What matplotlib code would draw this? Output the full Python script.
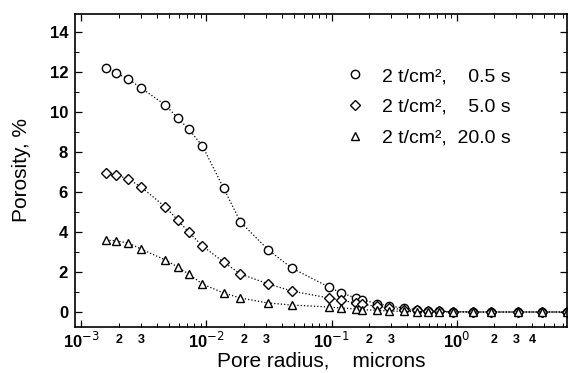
import numpy as np
import matplotlib
matplotlib.use("Agg")
import matplotlib.pyplot as plt
from matplotlib.ticker import FixedLocator, FixedFormatter, MultipleLocator

plt.rcParams['font.family'] = ['Liberation Sans', 'DejaVu Sans']

# pore radius, microns (shared by all three series)
radius = [0.00158, 0.0019, 0.00238, 0.0030, 0.0047, 0.0059, 0.0072, 0.0093,
          0.0137, 0.0187, 0.0313, 0.048, 0.095, 0.118, 0.156, 0.174,
          0.229, 0.29, 0.377, 0.48, 0.59, 0.72, 0.93, 1.34, 1.87, 3.08,
          4.8, 7.6]

# porosity, %
por_05 = [12.2, 11.95, 11.65, 11.2, 10.35, 9.7, 9.15, 8.3,
          6.2, 4.5, 3.1, 2.2, 1.25, 0.97, 0.7, 0.62,
          0.42, 0.3, 0.2, 0.12, 0.07, 0.04, 0.02, 0.0, 0.0, 0.0,
          0.0, 0.0]
por_50 = [6.95, 6.85, 6.65, 6.25, 5.25, 4.6, 4.0, 3.3,
          2.5, 1.9, 1.4, 1.05, 0.7, 0.6, 0.45, 0.4,
          0.28, 0.2, 0.12, 0.08, 0.05, 0.03, 0.01, 0.0, 0.0, 0.0,
          0.0, 0.0]
por_20 = [3.6, 3.55, 3.45, 3.15, 2.6, 2.25, 1.9, 1.4,
          0.95, 0.7, 0.45, 0.35, 0.25, 0.2, 0.15, 0.12,
          0.08, 0.05, 0.03, 0.02, 0.01, 0.0, 0.0, 0.0, 0.0, 0.0,
          0.0, 0.0]

labels = ['2 t/cm²,    0.5 s', '2 t/cm²,    5.0 s', '2 t/cm²,  20.0 s']

fig = plt.figure(figsize=(5.73, 3.73), dpi=100)
ax = fig.add_axes([75 / 573, 46 / 373, 492 / 573, 313 / 373])

ax.plot(radius, por_05, linestyle=':', color='black', lw=0.9, marker='o',
        ms=6, mfc='white', mec='black', mew=1.0, label=labels[0])
ax.plot(radius, por_50, linestyle=':', color='black', lw=0.9, marker='D',
        ms=5.5, mfc='white', mec='black', mew=1.0, label=labels[1])
ax.plot(radius, por_20, linestyle=':', color='black', lw=0.9, marker='^',
        ms=6, mfc='white', mec='black', mew=1.0, label=labels[2])

ax.set_xscale('log')
ax.set_xlim(10 ** -3.05, 7.6)
ax.set_ylim(-0.75, 14.9)

# x ticks
major = [1e-3, 1e-2, 1e-1, 1e0]
major_lbl = ['10$^{-3}$', '10$^{-2}$', '10$^{-1}$', '10$^{0}$']
ax.xaxis.set_major_locator(FixedLocator(major))
ax.xaxis.set_major_formatter(FixedFormatter(major_lbl))
minor = []
minor_lbl = []
for dec in [1e-3, 1e-2, 1e-1, 1e0]:
    for m in range(2, 10):
        minor.append(m * dec)
        if dec < 1 and m in (2, 3):
            minor_lbl.append(str(m))
        elif dec == 1 and m in (2, 3, 4):
            minor_lbl.append(str(m))
        else:
            minor_lbl.append('')
ax.xaxis.set_minor_locator(FixedLocator(minor))
ax.xaxis.set_minor_formatter(FixedFormatter(minor_lbl))

ax.yaxis.set_major_locator(MultipleLocator(2))
ax.yaxis.set_minor_locator(MultipleLocator(1))

ax.tick_params(which='both', direction='in', top=True, right=True)
ax.tick_params(which='major', length=5, width=0.9)
ax.tick_params(which='minor', length=3, width=0.7)
ax.tick_params(axis='x', which='major', labelsize=12, pad=3)
ax.tick_params(axis='x', which='minor', labelsize=9, pad=5)
ax.tick_params(axis='y', labelsize=12, pad=5)
for t in ax.get_xticklabels(which='both') + ax.get_yticklabels():
    t.set_fontweight('bold')

for s in ax.spines.values():
    s.set_linewidth(1.2)

ax.set_xlabel('Pore radius,    microns', fontsize=15)
ax.xaxis.set_label_coords(0.5, -0.108)
ax.xaxis.label.set_verticalalignment('center')
ax.set_ylabel('Porosity, %', fontsize=15)
ax.yaxis.set_label_coords(-0.09, 0.5)

leg = ax.legend(loc='upper right', bbox_to_anchor=(0.905, 0.86), frameon=False,
                fontsize=14, handlelength=1.0, handletextpad=0.9,
                labelspacing=0.68, borderpad=0.0)
for line in leg.get_lines():
    line.set_linestyle('None')

fig.savefig('out.png', dpi=100)
